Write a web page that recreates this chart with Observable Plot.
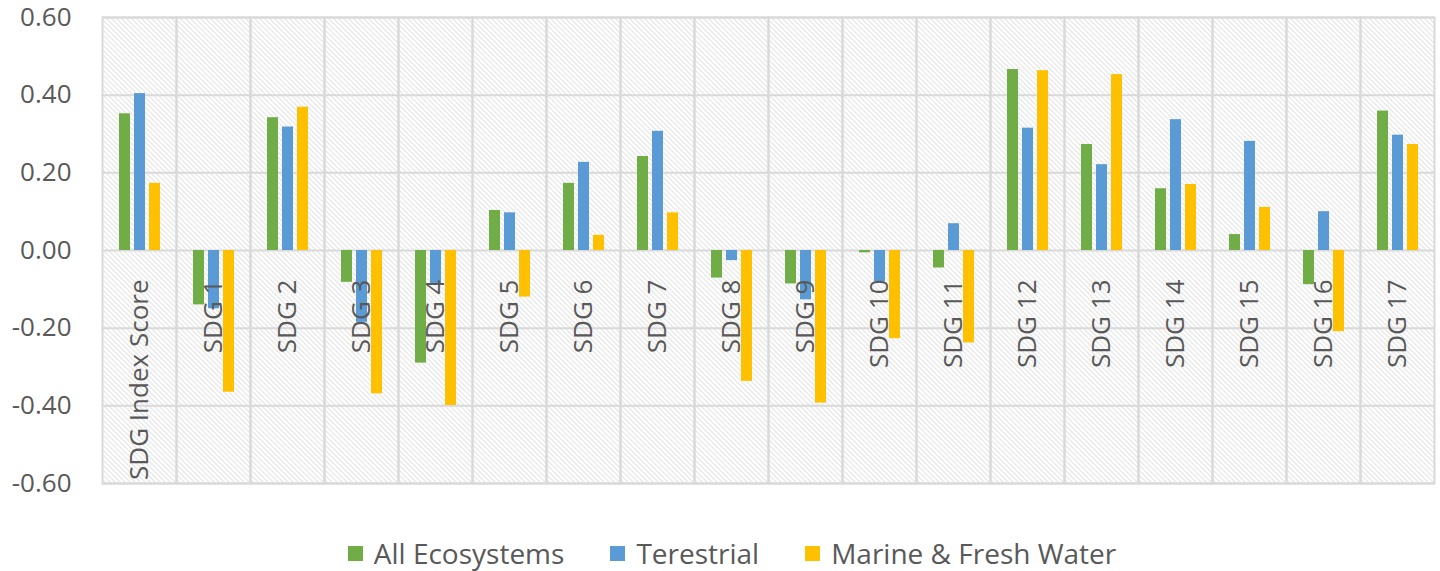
<!DOCTYPE html>
<html>
<head>
<meta charset="utf-8">
<script src="https://cdn.jsdelivr.net/npm/d3@7"></script>
<script src="https://cdn.jsdelivr.net/npm/@observablehq/plot@0.6"></script>
<style>
  html, body { margin: 0; padding: 0; background: #fff; }
  body { width: 1440px; height: 571px; overflow: hidden; font-family: "Open Sans", sans-serif; }
  #chart svg { overflow: visible; }
  #legend { display: flex; justify-content: center; align-items: center; height: 34px; padding-left: 24px;
            font-size: 28px; color: #595959; gap: 46px; }
  #legend .item { display: flex; align-items: center; gap: 11px; }
  #legend .sw { width: 15px; height: 15px; display: inline-block; }
</style>
</head>
<body>
<div id="chart"></div>
<div id="legend"></div>
<script>
const categories = ["SDG Index Score","SDG 1","SDG 2","SDG 3","SDG 4","SDG 5","SDG 6","SDG 7","SDG 8","SDG 9","SDG 10","SDG 11","SDG 12","SDG 13","SDG 14","SDG 15","SDG 16","SDG 17"];
const seriesNames = ["All Ecosystems","Terestrial","Marine & Fresh Water"];
const seriesColors = ["#70AD47","#5B9BD5","#FFC000"];
const allEcosystems = [0.352,-0.140,0.342,-0.082,-0.290,0.103,0.173,0.242,-0.071,-0.086,-0.006,-0.045,0.466,0.273,0.159,0.041,-0.088,0.359];
const terrestrial   = [0.404,-0.150,0.318,-0.185,-0.085,0.097,0.227,0.307,-0.026,-0.127,-0.080,0.069,0.315,0.221,0.337,0.281,0.100,0.297];
const marineFresh   = [0.173,-0.365,0.369,-0.369,-0.399,-0.120,0.039,0.097,-0.337,-0.393,-0.227,-0.238,0.463,0.453,0.170,0.111,-0.209,0.273];
const yTicks = [-0.6,-0.4,-0.2,0,0.2,0.4,0.6];

const seriesValues = [allEcosystems, terrestrial, marineFresh];
const data = categories.flatMap((c, i) => seriesNames.map((s, j) => ({cat: c, series: s, value: seriesValues[j][i]})));

const chart = Plot.plot({
  width: 1440,
  height: 536,
  marginLeft: 99,
  marginRight: 3,
  marginTop: 17,
  marginBottom: 53,
  style: {fontFamily: "Open Sans, sans-serif", background: "#fff", overflow: "visible"},
  fx: {domain: categories, padding: 0, axis: null, label: null},
  x: {domain: seriesNames, paddingInner: 0.3, paddingOuter: 1.0, axis: null, label: null},
  y: {domain: [-0.6, 0.6], ticks: yTicks, tickFormat: d => d.toFixed(2), tickSize: 0, tickPadding: 31, label: null, fontSize: 26},
  color: {domain: seriesNames, range: seriesColors},
  marks: [
    Plot.frame({fill: "url(#hatch)", stroke: "none"}),
    Plot.gridY(yTicks, {stroke: "#d9d9d9", strokeOpacity: 1, strokeWidth: 2}),
    Plot.frame({stroke: "#d9d9d9", strokeWidth: 2}),
    Plot.barY(data, {fx: "cat", x: "series", y: "value", fill: "series"}),
    Plot.text(categories, {fx: d => d, y: () => 0, text: d => d, rotate: -90, textAnchor: "end", dy: 29,
      fontSize: 26, fill: "#595959", frameAnchor: "middle"})
  ]
});

// hatch pattern
const ns = "http://www.w3.org/2000/svg";
const defs = document.createElementNS(ns, "defs");
defs.innerHTML = `<pattern id="hatch" patternUnits="userSpaceOnUse" width="5" height="5">
  <rect width="5" height="5" fill="#ffffff"/>
  <path d="M-1,-1 L6,6 M-1,4 L1,6 M4,-1 L6,1" stroke="#d3d3d3" stroke-width="1"/>
</pattern>`;
chart.insertBefore(defs, chart.firstChild);
chart.querySelectorAll('g[aria-label="y-axis tick label"]').forEach(el => {
  el.setAttribute("fill", "#595959");
  el.setAttribute("font-size", "26");
});
document.getElementById("chart").appendChild(chart);

const legend = document.getElementById("legend");
seriesNames.forEach((s, i) => {
  const item = document.createElement("div");
  item.className = "item";
  const sw = document.createElement("span");
  sw.className = "sw";
  sw.style.background = seriesColors[i];
  const t = document.createElement("span");
  t.textContent = s;
  item.appendChild(sw);
  item.appendChild(t);
  legend.appendChild(item);
});
</script>
</body>
</html>
